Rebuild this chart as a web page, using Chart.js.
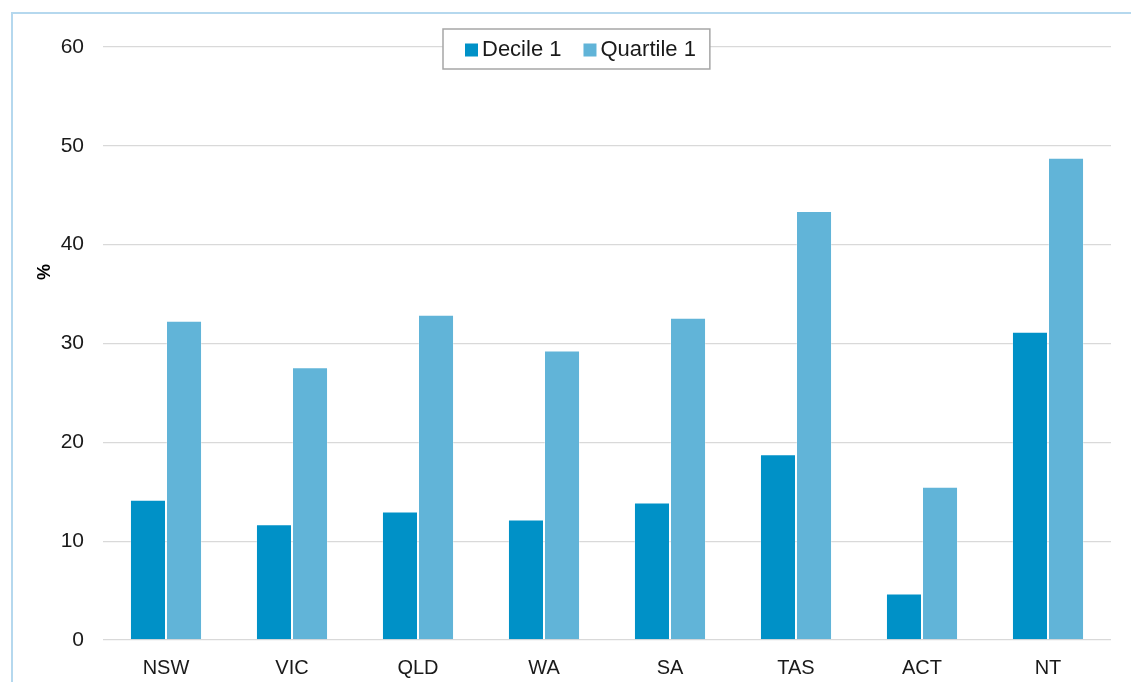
<!DOCTYPE html>
<html>
<head>
<meta charset="utf-8">
<script src="https://cdn.jsdelivr.net/npm/chart.js@4/dist/chart.umd.min.js"></script>
<style>
  html, body { margin: 0; padding: 0; background: #fff; }
  #wrap { width: 1131px; height: 682px; position: relative; }
</style>
</head>
<body>
<div id="wrap"><canvas id="chart"></canvas></div>
<script>
var categories = ["NSW", "VIC", "QLD", "WA", "SA", "TAS", "ACT", "NT"];
var decile1 = [14.2, 11.7, 13.0, 12.2, 13.9, 18.8, 4.7, 31.2];
var quartile1 = [32.3, 27.6, 32.9, 29.3, 32.6, 43.4, 15.5, 48.8];
var yTicks = [0, 10, 20, 30, 40, 50, 60];

var FONT = "'Liberation Sans', Arial, sans-serif";

// light blue frame round the chart, cut off at right and bottom
// plus the "%" axis label, which sits above the middle of the axis
var framePlugin = {
  id: "frame",
  beforeDraw: function (chart) {
    var ctx = chart.ctx;
    ctx.save();
    ctx.strokeStyle = "#b5d8ee";
    ctx.lineWidth = 2;
    ctx.strokeRect(12, 13, 1140, 700);
    ctx.translate(45, 272);
    ctx.rotate(-Math.PI / 2);
    ctx.font = "bold 18px " + FONT;
    ctx.fillStyle = "#000";
    ctx.textAlign = "center";
    ctx.textBaseline = "middle";
    ctx.fillText("%", 0, 0);
    ctx.restore();
  }
};

// boxed legend sitting over the top gridline
var boxLegend = {
  id: "boxLegend",
  afterDraw: function (chart) {
    var ctx = chart.ctx;
    var sets = chart.data.datasets;
    ctx.save();
    ctx.font = "22px " + FONT;
    var items = sets.map(function (d) { return { d: d, w: ctx.measureText(d.label).width }; });
    var box = 13, gap = 4, between = 22, padL = 22, padR = 14;
    var total = padL + padR;
    items.forEach(function (it, i) { total += box + gap + it.w + (i ? between : 0); });
    var x0 = 443, y0 = 29, h = 40;
    ctx.fillStyle = "#fff";
    ctx.fillRect(x0, y0, total, h);
    ctx.strokeStyle = "#a6a6a6";
    ctx.lineWidth = 1.5;
    ctx.strokeRect(x0, y0, total, h);
    var x = x0 + padL, cy = y0 + h / 2;
    items.forEach(function (it, i) {
      if (i) x += between;
      ctx.fillStyle = it.d.backgroundColor;
      ctx.fillRect(x, cy - box / 2 + 1, box, box);
      x += box + gap;
      ctx.fillStyle = "#1a1a1a";
      ctx.textBaseline = "middle";
      ctx.fillText(it.d.label, x, cy + 1);
      x += it.w;
    });
    ctx.restore();
  }
};

new Chart(document.getElementById("chart"), {
  type: "bar",
  data: {
    labels: categories,
    datasets: [
      { label: "Decile 1", data: decile1, backgroundColor: "#0091c7", borderColor: "rgba(255,255,255,0.3)", borderWidth: 1 },
      { label: "Quartile 1", data: quartile1, backgroundColor: "#61b4d8", borderColor: "rgba(255,255,255,0.3)", borderWidth: 1 }
    ]
  },
  options: {
    responsive: true,
    maintainAspectRatio: false,
    animation: false,
    layout: { padding: { left: 35, right: 20, top: 47, bottom: -14 } },
    datasets: { bar: { categoryPercentage: 0.572, barPercentage: 1 } },
    plugins: { legend: { display: false }, tooltip: { enabled: false } },
    scales: {
      x: {
        grid: { display: false, drawTicks: false },
        border: { display: false },
        ticks: { color: "#1a1a1a", padding: 16, font: { family: FONT, size: 20 } }
      },
      y: {
        min: 0,
        max: 60,
        afterBuildTicks: function (scale) {
          scale.ticks = yTicks.map(function (v) { return { value: v }; });
        },
        afterFit: function (scale) { scale.width = 68; },
        grid: { color: "#d9d9d9", lineWidth: 1.3, drawTicks: false },
        border: { display: false },
        ticks: { color: "#1a1a1a", padding: 19, font: { family: FONT, size: 21 } }
      }
    }
  },
  plugins: [framePlugin, boxLegend]
});
</script>
</body>
</html>
